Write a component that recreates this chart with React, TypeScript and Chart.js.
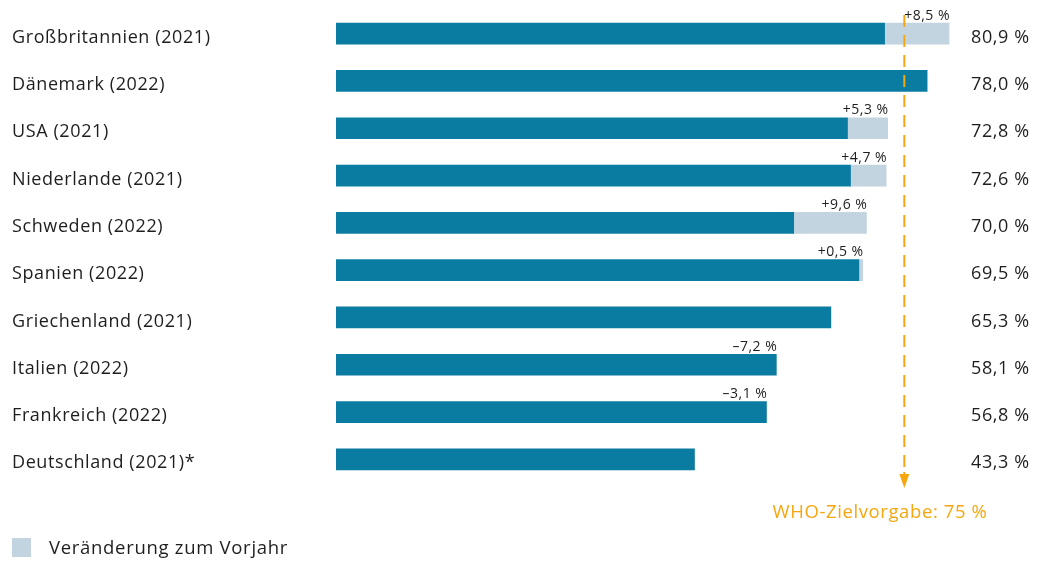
import React, { useEffect, useRef } from "react";
import { Chart, registerables } from "chart.js";

Chart.register(...registerables);

const categories = [
  "Großbritannien (2021)",
  "Dänemark (2022)",
  "USA (2021)",
  "Niederlande (2021)",
  "Schweden (2022)",
  "Spanien (2022)",
  "Griechenland (2021)",
  "Italien (2022)",
  "Frankreich (2022)",
  "Deutschland (2021)*",
];
// dark bar (previous year level, as drawn)
const previousLevel = [72.4, 78.0, 67.5, 67.9, 60.4, 69.0, 65.3, 58.1, 56.8, 47.3];
// light bar (increase over previous year)
const increase = [8.5, 0, 5.3, 4.7, 9.6, 0.5, 0, 0, 0, 0];
const valueLabels = ["80,9 %", "78,0 %", "72,8 %", "72,6 %", "70,0 %", "69,5 %", "65,3 %", "58,1 %", "56,8 %", "43,3 %"];
const changeLabels = ["+8,5 %", "", "+5,3 %", "+4,7 %", "+9,6 %", "+0,5 %", "", "–7,2 %", "–3,1 %", ""];
const whoTarget = 75;
const whoLabel = "WHO-Zielvorgabe: 75 %";
const legendLabel = "Veränderung zum Vorjahr";

const DARK = "#0b7ca1";
const LIGHT = "#c1d4e0";
const ORANGE = "#f6a70f";
const TEXT = "#1e1e1e";
const FONT = "'Open Sans', 'Noto Sans', sans-serif";

export default function App() {
  const ref = useRef<HTMLCanvasElement | null>(null);

  useEffect(() => {
    if (!ref.current) return;
    const overlay = {
      id: "overlay",
      afterDatasetsDraw(chart: any) {
        const ctx = chart.ctx;
        const x = chart.scales.x;
        const y = chart.scales.y;
        ctx.save();
        categories.forEach((c, i) => {
          const cy = y.getPixelForValue(i);
          ctx.fillStyle = TEXT;
          ctx.font = `18px ${FONT}`;
          ctx.letterSpacing = "0.6px";
          ctx.textBaseline = "middle";
          ctx.textAlign = "left";
          ctx.fillText(c, 12, cy + 4);
          ctx.fillText(valueLabels[i], 971, cy + 4);
          if (changeLabels[i]) {
            const end = x.getPixelForValue(previousLevel[i] + increase[i]);
            ctx.font = `14px ${FONT}`;
            ctx.letterSpacing = "0.5px";
            ctx.textAlign = "right";
            ctx.textBaseline = "bottom";
            ctx.fillText(changeLabels[i], end + 1, cy - 11);
          }
        });
        // WHO line
        const wx = x.getPixelForValue(whoTarget);
        ctx.strokeStyle = ORANGE;
        ctx.lineWidth = 2;
        ctx.setLineDash([12, 8]);
        ctx.beginPath();
        ctx.moveTo(wx, 15);
        ctx.lineTo(wx, 476);
        ctx.stroke();
        ctx.setLineDash([]);
        ctx.beginPath();
        ctx.moveTo(wx, 472);
        ctx.lineTo(wx, 480);
        ctx.stroke();
        ctx.fillStyle = ORANGE;
        ctx.beginPath();
        ctx.moveTo(wx - 5, 474);
        ctx.lineTo(wx + 5, 474);
        ctx.lineTo(wx, 488);
        ctx.closePath();
        ctx.fill();
        ctx.font = `18.5px ${FONT}`;
        ctx.letterSpacing = "0.6px";
        ctx.textAlign = "center";
        ctx.textBaseline = "middle";
        ctx.fillText(whoLabel, 880, 513);
        // legend
        ctx.fillStyle = LIGHT;
        ctx.fillRect(12, 538, 19, 19);
        ctx.fillStyle = TEXT;
        ctx.textAlign = "left";
        ctx.font = `18.5px ${FONT}`;
        ctx.letterSpacing = "0.7px";
        ctx.fillText(legendLabel, 49, 549);
        ctx.restore();
      },
    };

    const chart = new Chart(ref.current, {
      type: "bar",
      data: {
        labels: categories,
        datasets: [
          { label: "Vorjahr", data: previousLevel, backgroundColor: DARK, barThickness: 21 },
          { label: legendLabel, data: increase, backgroundColor: LIGHT, barThickness: 21 },
        ],
      },
      options: {
        indexAxis: "y",
        animation: false,
        responsive: false,
        maintainAspectRatio: false,
        layout: { padding: { left: 336, right: 23, top: 10, bottom: 79 } },
        scales: {
          x: { stacked: true, min: 0, max: 90, display: false },
          y: { stacked: true, display: false },
        },
        plugins: { legend: { display: false }, tooltip: { enabled: false } },
      },
      plugins: [overlay],
    } as any);
    return () => chart.destroy();
  }, []);

  return (
    <div style={{ position: "fixed", left: 0, top: 0, width: 1041, height: 562, background: "#fff" }}>
      <canvas ref={ref} width={1041} height={562} style={{ width: 1041, height: 562 }} />
    </div>
  );
}
